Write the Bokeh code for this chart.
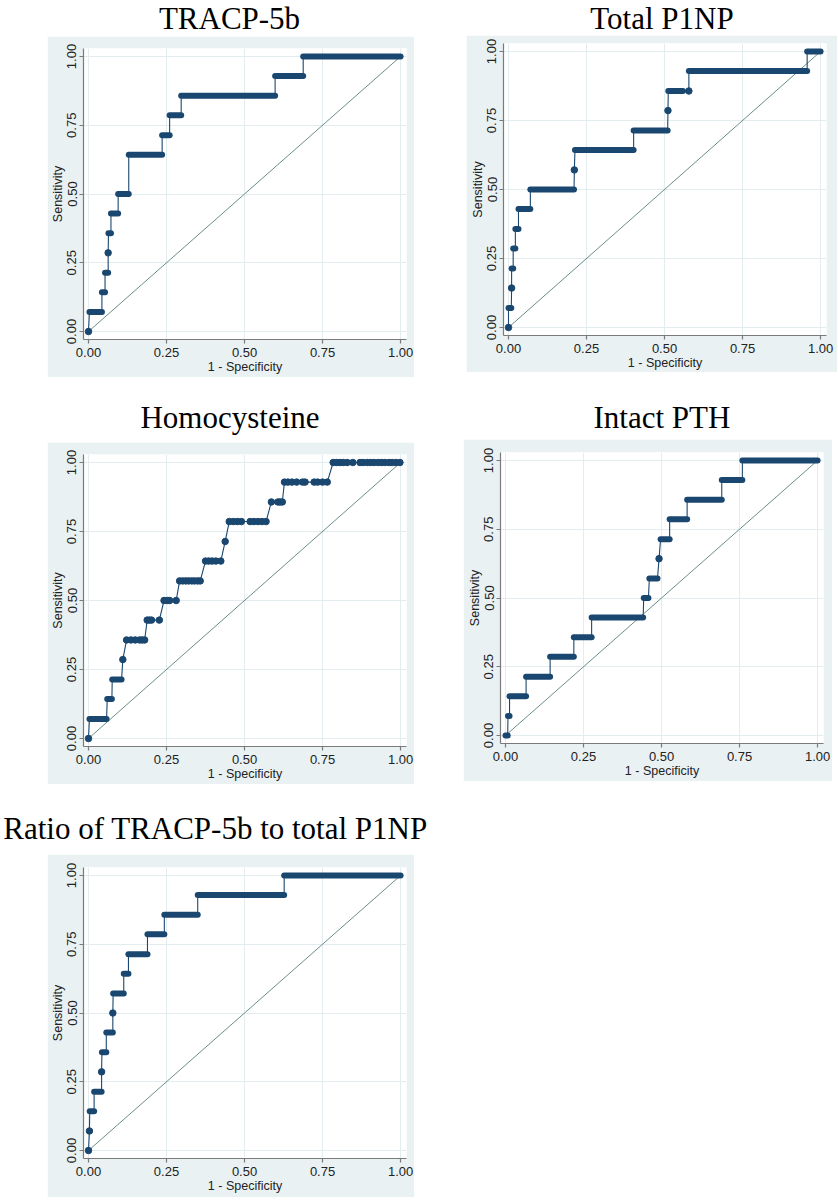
from bokeh.plotting import figure
from bokeh.layouts import row, column, Spacer
from bokeh.models import Range1d, FixedTicker, Label, NumeralTickFormatter
from bokeh.embed import file_html
from bokeh.resources import INLINE

BG = "#E9F1F3"
GRID = "#E3ECEF"
NAVY = "#1A476F"
DIAG = "#6A8E86"
AXIS = "#7A7A7A"
TXT = "#222222"

tick_values = [0.0, 0.25, 0.5, 0.75, 1.0]
tick_labels = ["0.00", "0.25", "0.50", "0.75", "1.00"]
diag_x = [0.0, 1.0]
diag_y = [0.0, 1.0]
x_label = "1 - Specificity"
y_label = "Sensitivity"
titles = ["TRACP-5b", "Total P1NP", "Homocysteine", "Intact PTH",
          "Ratio of TRACP-5b to total P1NP"]

# ---- TRACP-5b: dense runs (sensitivity, fpr from, fpr to) and isolated dots
tr_run_sens = [0.071, 0.143, 0.214, 0.357, 0.429, 0.500, 0.643, 0.714, 0.786, 0.857, 0.929, 1.000]
tr_run_from = [0.003, 0.043, 0.053, 0.064, 0.072, 0.095, 0.129, 0.236, 0.260, 0.297, 0.598, 0.688]
tr_run_to   = [0.043, 0.053, 0.063, 0.072, 0.095, 0.129, 0.236, 0.260, 0.297, 0.598, 0.688, 1.000]
tr_dot_fpr  = [0.000, 0.063]
tr_dot_sens = [0.000, 0.286]

# ---- Total P1NP
tp_run_sens = [0.071, 0.214, 0.286, 0.357, 0.429, 0.500, 0.643, 0.714, 0.857, 0.929, 1.000]
tp_run_from = [0.000, 0.010, 0.015, 0.022, 0.032, 0.070, 0.213, 0.401, 0.512, 0.578, 0.957]
tp_run_to   = [0.009, 0.015, 0.022, 0.032, 0.070, 0.210, 0.401, 0.510, 0.559, 0.957, 1.000]
tp_dot_fpr  = [0.000, 0.010, 0.211, 0.511, 0.578]
tp_dot_sens = [0.000, 0.143, 0.571, 0.786, 0.857]

# ---- Homocysteine
hc_run_sens = [0.071, 0.143, 0.214]
hc_run_from = [0.003, 0.060, 0.076]
hc_run_to   = [0.058, 0.075, 0.106]
hc_dot_fpr = [0.000, 0.110,
              0.122, 0.136, 0.150, 0.164, 0.172, 0.180,
              0.188, 0.195, 0.202, 0.227,
              0.242, 0.252, 0.260, 0.281,
              0.292, 0.302, 0.312, 0.321, 0.331, 0.340, 0.350, 0.358,
              0.375, 0.385, 0.396, 0.408, 0.424,
              0.438,
              0.451, 0.464, 0.477, 0.490, 0.518, 0.530, 0.543, 0.556, 0.569,
              0.586, 0.607, 0.614, 0.621,
              0.628, 0.639, 0.652, 0.667, 0.686, 0.694, 0.723, 0.734, 0.750, 0.765,
              0.784, 0.795, 0.806, 0.816, 0.829, 0.847, 0.870, 0.880, 0.893, 0.904,
              0.915, 0.928, 0.939, 0.950, 0.963, 0.973, 0.985, 0.998]
hc_dot_sens = [0.000, 0.286,
               0.357, 0.357, 0.357, 0.357, 0.357, 0.357,
               0.429, 0.429, 0.429, 0.429,
               0.500, 0.500, 0.500, 0.500,
               0.571, 0.571, 0.571, 0.571, 0.571, 0.571, 0.571, 0.571,
               0.643, 0.643, 0.643, 0.643, 0.643,
               0.714,
               0.786, 0.786, 0.786, 0.786, 0.786, 0.786, 0.786, 0.786, 0.786,
               0.857, 0.857, 0.857, 0.857,
               0.929, 0.929, 0.929, 0.929, 0.929, 0.929, 0.929, 0.929, 0.929, 0.929,
               1.000, 1.000, 1.000, 1.000, 1.000, 1.000, 1.000, 1.000, 1.000, 1.000,
               1.000, 1.000, 1.000, 1.000, 1.000, 1.000, 1.000, 1.000]

# ---- Intact PTH
ip_run_sens = [0.000, 0.071, 0.143, 0.214, 0.286, 0.357, 0.429, 0.500, 0.571, 0.714, 0.786, 0.857, 0.929, 1.000]
ip_run_from = [0.000, 0.008, 0.013, 0.066, 0.143, 0.219, 0.276, 0.443, 0.461, 0.497, 0.526, 0.582, 0.693, 0.759]
ip_run_to   = [0.007, 0.013, 0.066, 0.143, 0.219, 0.276, 0.441, 0.458, 0.487, 0.526, 0.582, 0.693, 0.759, 1.000]
ip_dot_fpr  = [0.492]
ip_dot_sens = [0.643]

# ---- Ratio of TRACP-5b to total P1NP
rt_run_sens = [0.143, 0.214, 0.357, 0.429, 0.571, 0.643, 0.714, 0.786, 0.857, 0.929, 1.000]
rt_run_from = [0.004, 0.018, 0.043, 0.057, 0.079, 0.113, 0.128, 0.189, 0.243, 0.350, 0.627]
rt_run_to   = [0.018, 0.042, 0.057, 0.078, 0.113, 0.128, 0.189, 0.243, 0.350, 0.627, 1.000]
rt_dot_fpr  = [0.000, 0.003, 0.042, 0.078]
rt_dot_sens = [0.000, 0.071, 0.286, 0.500]


def roc_panel(rs, rf, rt, dx, dy, width, height, left, right, top, bottom):
    p = figure(width=width, height=height, title=None,
               x_range=Range1d(-0.016, 1.019), y_range=Range1d(-0.029, 1.029),
               min_border_left=left, min_border_right=right,
               min_border_top=top, min_border_bottom=bottom,
               toolbar_location=None, output_backend="svg",
               border_fill_color=BG, background_fill_color="white",
               outline_line_color=None)
    for ax in (p.xaxis[0], p.yaxis[0]):
        ax.ticker = FixedTicker(ticks=tick_values)
        ax.formatter = NumeralTickFormatter(format="0.00")
        ax.major_label_overrides = {v: l for v, l in zip(tick_values, tick_labels)}
        ax.axis_line_color = AXIS
        ax.axis_line_width = 1.2
        ax.major_tick_line_color = AXIS
        ax.major_tick_line_width = 1.2
        ax.major_tick_out = 4
        ax.major_tick_in = 0
        ax.minor_tick_line_color = None
        ax.major_label_text_font = "Liberation Sans"
        ax.major_label_text_font_size = "13px"
        ax.major_label_text_color = TXT
        ax.axis_label_text_font = "Liberation Sans"
        ax.axis_label_text_font_size = "12.5px"
        ax.axis_label_text_font_style = "normal"
        ax.axis_label_text_color = TXT
        ax.axis_label_standoff = 0
    p.xaxis.axis_label = x_label
    p.yaxis.axis_label = y_label
    p.xaxis.major_label_standoff = 4
    p.yaxis.major_label_standoff = 3
    p.yaxis.major_label_orientation = "vertical"
    p.grid.grid_line_color = GRID
    p.grid.grid_line_width = 1

    p.line(diag_x, diag_y, line_color=DIAG, line_width=1)

    verts = [(f, s) for s, f in zip(rs, rf)] + [(t, s) for s, t in zip(rs, rt)] + list(zip(dx, dy))
    verts.sort(key=lambda v: (v[1], v[0]))
    p.line([v[0] for v in verts], [v[1] for v in verts], line_color=NAVY, line_width=1.1)
    p.segment(x0=rf, y0=rs, x1=rt, y1=rs, line_color=NAVY, line_width=6, line_cap="round")
    p.scatter(dx, dy, size=6.5, marker="circle", fill_color=NAVY, line_color=NAVY)
    return p


def title_fig(text, width, height, cx, center_from_top):
    t = figure(width=width, height=height, title=None,
               x_range=Range1d(0, width), y_range=Range1d(0, height),
               min_border=0, toolbar_location=None, output_backend="svg",
               x_axis_location=None, y_axis_location=None, outline_line_color=None,
               background_fill_color="white", border_fill_color="white")
    t.grid.visible = False
    t.add_layout(Label(x=cx, y=height - center_from_top, text=text, text_align="center",
                       text_baseline="middle", text_font="Liberation Serif",
                       text_font_size="31px", text_color="black"))
    return t


p1 = roc_panel(tr_run_sens, tr_run_from, tr_run_to, tr_dot_fpr, tr_dot_sens, 367, 341, 36, 8, 12, 38)
p2 = roc_panel(tp_run_sens, tp_run_from, tp_run_to, tp_dot_fpr, tp_dot_sens, 371, 337, 37, 11, 8, 37)
p3 = roc_panel(hc_run_sens, hc_run_from, hc_run_to, hc_dot_fpr, hc_dot_sens, 367, 342, 36, 8, 12, 38)
p4 = roc_panel(ip_run_sens, ip_run_from, ip_run_to, ip_dot_fpr, ip_dot_sens, 369, 342, 37, 9, 13, 38)
p5 = roc_panel(rt_run_sens, rt_run_from, rt_run_to, rt_dot_fpr, rt_dot_sens, 367, 343, 36, 8, 13, 39)

left_col = column(
    title_fig(titles[0], 463, 36, 229, 17.6),
    row(Spacer(width=47, height=341), p1),
    title_fig(titles[2], 463, 65, 229.5, 39.6),
    row(Spacer(width=47, height=342), p3),
    title_fig(titles[4], 463, 70, 215, 43.6),
    row(Spacer(width=47, height=343), p5),
)
right_col = column(
    title_fig(titles[1], 375, 35, 184, 17.6),
    row(Spacer(width=3, height=337), p2),
    title_fig(titles[3], 375, 67, 184, 44.6),
    p4,
)
layout = row(left_col, right_col)

open("out.html", "w").write(file_html(layout, INLINE))
